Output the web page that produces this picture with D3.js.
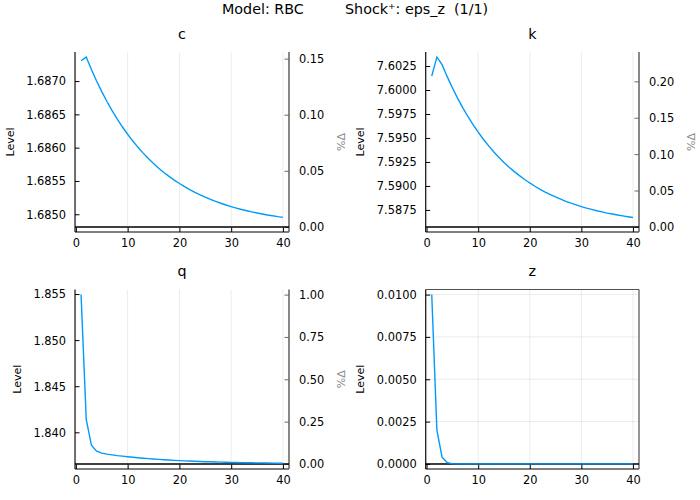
<!DOCTYPE html>
<html>
<head>
<meta charset="utf-8">
<script src="https://cdn.jsdelivr.net/npm/d3@7"></script>
<style>
  html, body { margin: 0; padding: 0; background: #fff; }
  svg { display: block; font-family: "DejaVu Sans", sans-serif; }
  text { white-space: pre; }
</style>
</head>
<body>
<svg id="chart" width="700" height="500"></svg>
<script>
// ---------------- DATA ----------------
const periods = [1,2,3,4,5,6,7,8,9,10,11,12,13,14,15,16,17,18,19,20,21,22,23,24,25,26,27,28,29,30,31,32,33,34,35,36,37,38,39,40];

const cLevel = [1.687305,1.687360,1.687174,1.687001,1.686841,1.686693,1.686555,1.686428,1.686310,1.686201,
                1.686099,1.686005,1.685918,1.685837,1.685762,1.685692,1.685628,1.685568,1.685513,1.685462,
                1.685414,1.685370,1.685329,1.685291,1.685256,1.685224,1.685193,1.685165,1.685139,1.685115,
                1.685093,1.685072,1.685053,1.685035,1.685019,1.685004,1.684989,1.684977,1.684964,1.684953];
const cSteady = 1.68481;

const kLevel = [7.60146,7.60343,7.60264,7.60139,7.60023,7.59916,7.59816,7.59724,7.59639,7.59560,
                7.59487,7.59420,7.59357,7.59299,7.59245,7.59195,7.59149,7.59107,7.59067,7.59031,
                7.58997,7.58965,7.58936,7.58910,7.58885,7.58862,7.58840,7.58820,7.58802,7.58785,
                7.58769,7.58755,7.58741,7.58729,7.58717,7.58707,7.58697,7.58688,7.58679,7.58671];
const kSteady = 7.58573;

const qLevel = [1.85494,1.84139,1.83859,1.83795,1.83774,1.83763,1.83755,1.83747,1.83741,1.83735,
                1.83729,1.83724,1.83719,1.83714,1.83710,1.83706,1.83702,1.83699,1.83696,1.83693,
                1.83690,1.83688,1.83686,1.83683,1.83681,1.83680,1.83678,1.83677,1.83675,1.83674,
                1.83672,1.83671,1.83670,1.83669,1.83668,1.83668,1.83667,1.83666,1.83665,1.83665];
const qSteady = 1.83657;

const zLevel = [0.01,0.002,0.0004,0.00008,0.000016,0.0000032,0.00000064,0.00000013,0.00000003,0.00000001,
                0,0,0,0,0,0,0,0,0,0,
                0,0,0,0,0,0,0,0,0,0,
                0,0,0,0,0,0,0,0,0,0];
const zSteady = 0;

const xTicks = [0,10,20,30,40];
const cLevelTicks = [1.6850,1.6855,1.6860,1.6865,1.6870];
const cPctTicks = [0.00,0.05,0.10,0.15];
const kLevelTicks = [7.5875,7.5900,7.5925,7.5950,7.5975,7.6000,7.6025];
const kPctTicks = [0.00,0.05,0.10,0.15,0.20];
const qLevelTicks = [1.840,1.845,1.850,1.855];
const qPctTicks = [0.00,0.25,0.50,0.75,1.00];
const zLevelTicks = [0.0000,0.0025,0.0050,0.0075,0.0100];

const titleLeft = "Model: RBC";
const titleRight = "Shock\u207A: eps_z  (1/1)";
const levelLabel = "Level";
const pctLabel = "%\u0394";

// ---------------- DRAW ----------------
const svg = d3.select("#chart");
svg.append("rect").attr("width", 700).attr("height", 500).attr("fill", "#fff");

svg.append("text").attr("x", 222).attr("y", 13.5).attr("font-size", 14.3).attr("fill", "#000")
  .attr("xml:space", "preserve").text(titleLeft);
svg.append("text").attr("x", 345).attr("y", 13.5).attr("font-size", 14.3).attr("fill", "#000")
  .attr("xml:space", "preserve").text(titleRight);

const LINE = "#009AFA";
const GRID = "rgba(0,0,0,0.1)";
const TWIN = "#6a6a6a";
const TICKFONT = 11.4;

function panel(cfg) {
  const g = svg.append("g");
  const {left, right, top, bottom} = cfg;
  const xs = d3.scaleLinear()
    .domain([periods[0] - 0.03 * (periods[periods.length-1] - periods[0]),
             periods[periods.length-1] + 0.03 * (periods[periods.length-1] - periods[0])])
    .range([left, right]);
  const ext = d3.extent(cfg.values.concat([cfg.ss]));
  const pad = (ext[1] - ext[0]) * 0.03;
  const yDom = [ext[0] - pad, ext[1] + pad];
  const ys = d3.scaleLinear().domain(yDom).range([bottom, top]);

  // grid
  g.append("g").selectAll("line").data(xTicks).join("line")
    .attr("x1", d => xs(d)).attr("x2", d => xs(d))
    .attr("y1", top).attr("y2", bottom)
    .attr("stroke", GRID).attr("stroke-width", 0.8);
  if (!cfg.twin) {
    g.append("g").selectAll("line").data(cfg.levelTicks).join("line")
      .attr("x1", left).attr("x2", right)
      .attr("y1", d => ys(d)).attr("y2", d => ys(d))
      .attr("stroke", GRID).attr("stroke-width", 0.8);
  }

  // left axis (inward ticks)
  const la = d3.axisLeft(ys).tickValues(cfg.levelTicks).tickFormat(d3.format(cfg.levelFmt))
    .tickSizeInner(-4.5).tickSizeOuter(0).tickPadding(9);
  const lg = g.append("g").attr("transform", `translate(${left},0)`).call(la);
  lg.select(".domain").remove();
  lg.selectAll(".tick line").attr("stroke", "#000");
  lg.selectAll("text").attr("font-size", TICKFONT).attr("font-family", "DejaVu Sans").attr("fill", "#000")
    .attr("x", -9).attr("dy", "0.34em");
  g.append("line").attr("x1", left).attr("x2", left).attr("y1", top).attr("y2", bottom)
    .attr("stroke", "#000").attr("stroke-width", 1.1);

  // bottom axis (inward ticks)
  const ba = d3.axisBottom(xs).tickValues(xTicks).tickFormat(d3.format("d"))
    .tickSizeInner(-4.5).tickSizeOuter(0);
  const bg = g.append("g").attr("transform", `translate(0,${bottom})`).call(ba);
  bg.select(".domain").remove();
  bg.selectAll(".tick line").attr("stroke", "#000");
  bg.selectAll("text").attr("font-size", TICKFONT).attr("font-family", "DejaVu Sans").attr("fill", "#000")
    .attr("y", 14.5).attr("dy", 0);
  g.append("line").attr("x1", left).attr("x2", right).attr("y1", bottom).attr("y2", bottom)
    .attr("stroke", "#000").attr("stroke-width", 1.1);

  if (cfg.twin) {
    const ps = d3.scaleLinear().domain(yDom.map(v => (v / cfg.ss - 1) * 100)).range([bottom, top]);
    const ra = d3.axisRight(ps).tickValues(cfg.pctTicks).tickFormat(d3.format(cfg.pctFmt))
      .tickSizeInner(-4.5).tickSizeOuter(0);
    const rg = g.append("g").attr("transform", `translate(${right},0)`).call(ra);
    rg.select(".domain").remove();
    rg.selectAll(".tick line").attr("stroke", TWIN);
    rg.selectAll("text").attr("font-size", TICKFONT).attr("font-family", "DejaVu Sans").attr("fill", "#000")
      .attr("x", 10).attr("dy", "0.34em");
    g.append("line").attr("x1", right).attr("x2", right).attr("y1", top).attr("y2", bottom)
      .attr("stroke", TWIN).attr("stroke-width", 1.6);
    g.append("text").attr("transform", `translate(${cfg.pctLabelX},${(top+bottom)/2}) rotate(-90)`)
      .attr("text-anchor", "middle").attr("font-size", 11).attr("fill", "#8a8a8a").text(pctLabel);
  } else {
    g.append("line").attr("x1", left).attr("x2", right).attr("y1", top).attr("y2", top)
      .attr("stroke", "#505050").attr("stroke-width", 1.2);
    g.append("line").attr("x1", right).attr("x2", right).attr("y1", top).attr("y2", bottom)
      .attr("stroke", "#505050").attr("stroke-width", 1.2);
  }

  // steady state line
  g.append("line").attr("x1", left).attr("x2", right)
    .attr("y1", ys(cfg.ss)).attr("y2", ys(cfg.ss))
    .attr("stroke", "#000").attr("stroke-width", 1.5);

  // series
  const line = d3.line().x((d, i) => xs(periods[i])).y(d => ys(d));
  g.append("path").datum(cfg.values).attr("d", line)
    .attr("fill", "none").attr("stroke", LINE).attr("stroke-width", 1.4);

  // titles
  g.append("text").attr("x", (left + right) / 2).attr("y", top - 13.5)
    .attr("text-anchor", "middle").attr("font-size", 14.3).attr("fill", "#000").text(cfg.title);
  g.append("text").attr("transform", `translate(${cfg.levelLabelX},${(top+bottom)/2}) rotate(-90)`)
    .attr("text-anchor", "middle").attr("font-size", 11).attr("fill", "#000").text(levelLabel);
}

const COLS = [{left: 75, right: 289}, {left: 425.7, right: 639}];
const ROWS = [{top: 52, bottom: 232}, {top: 289.5, bottom: 469}];

panel({title: "c", values: cLevel, ss: cSteady, ...COLS[0], ...ROWS[0], twin: true,
       levelTicks: cLevelTicks, levelFmt: ".4f", pctTicks: cPctTicks, pctFmt: ".2f",
       levelLabelX: 13.5, pctLabelX: 345});
panel({title: "k", values: kLevel, ss: kSteady, ...COLS[1], ...ROWS[0], twin: true,
       levelTicks: kLevelTicks, levelFmt: ".4f", pctTicks: kPctTicks, pctFmt: ".2f",
       levelLabelX: 363.5, pctLabelX: 695});
panel({title: "q", values: qLevel, ss: qSteady, ...COLS[0], ...ROWS[1], twin: true,
       levelTicks: qLevelTicks, levelFmt: ".3f", pctTicks: qPctTicks, pctFmt: ".2f",
       levelLabelX: 21, pctLabelX: 345});
panel({title: "z", values: zLevel, ss: zSteady, ...COLS[1], ...ROWS[1], twin: false,
       levelTicks: zLevelTicks, levelFmt: ".4f",
       levelLabelX: 363.5});
</script>
</body>
</html>
